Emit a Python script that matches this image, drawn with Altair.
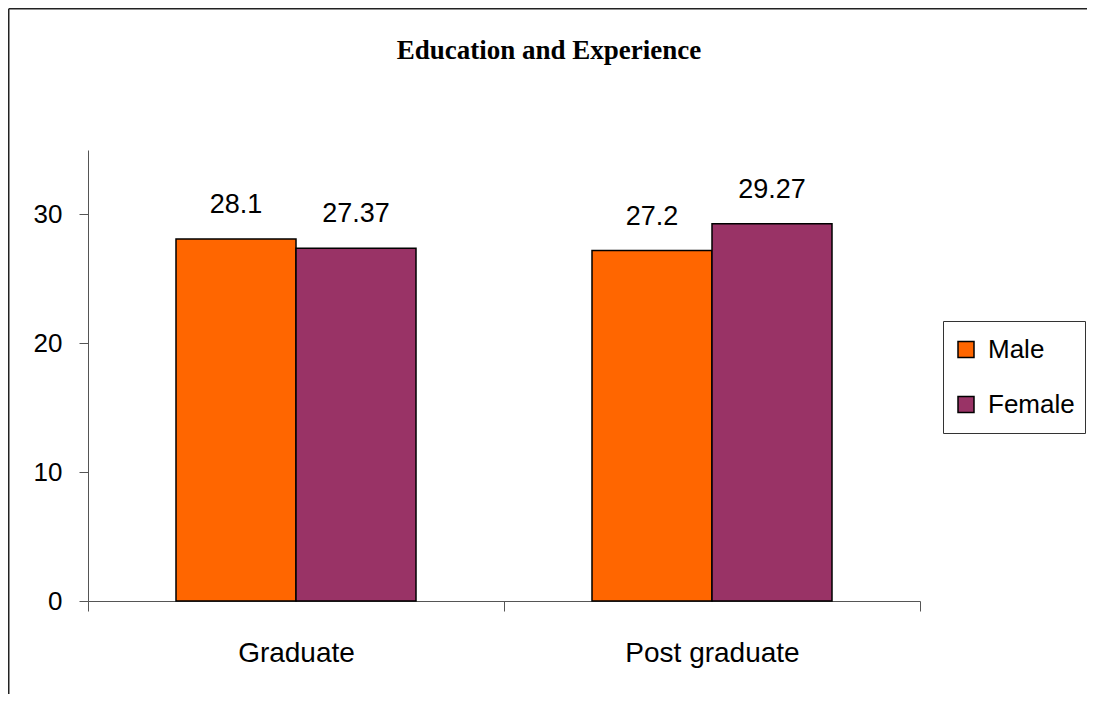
import altair as alt
import pandas as pd

categories = ["Graduate", "Post graduate"]
genders = ["Male", "Female"]
male_values = [28.1, 27.2]
female_values = [27.37, 29.27]
male_labels = ["28.1", "27.2"]
female_labels = ["27.37", "29.27"]
colors = ["#FF6600", "#993366"]
y_ticks = [0, 10, 20, 30]
chart_title = ["Education and Experience"]

rows = []
for i, c in enumerate(categories):
    rows.append({"Education": c, "Gender": "Male", "Value": male_values[i], "Label": male_labels[i]})
    rows.append({"Education": c, "Gender": "Female", "Value": female_values[i], "Label": female_labels[i]})
df = pd.DataFrame(rows)

SANS = "'Liberation Sans', Arial, sans-serif"
SERIF = "'Liberation Serif', 'Times New Roman', serif"

base = alt.Chart(df).encode(
    x=alt.X(
        "Education:N",
        sort=categories,
        title=None,
        scale=alt.Scale(paddingInner=0, paddingOuter=0),
        axis=alt.Axis(
            labelAngle=0,
            tickBand="extent",
            tickSize=10,
            labelPadding=28,
            labelFontSize=28,
            labelFont=SANS,
            labelColor="black",
            labelLimit=400,
            domainColor="#555555",
            tickColor="#555555",
            grid=False,
        ),
    ),
    xOffset=alt.XOffset(
        "Gender:N",
        sort=genders,
        scale=alt.Scale(paddingInner=0, paddingOuter=0.7333),
    ),
    y=alt.Y(
        "Value:Q",
        title=None,
        scale=alt.Scale(domain=[0, 35], nice=False, zero=True),
        axis=alt.Axis(
            values=y_ticks,
            tickSize=9,
            labelPadding=17,
            labelFontSize=26,
            labelFont=SANS,
            labelColor="black",
            domainColor="#555555",
            tickColor="#555555",
            grid=False,
        ),
    ),
)

bars = base.mark_bar(stroke="black", strokeWidth=1.5).encode(
    color=alt.Color(
        "Gender:N",
        sort=genders,
        scale=alt.Scale(domain=genders, range=colors),
        legend=alt.Legend(
            title=None,
            orient="none",
            legendX=855,
            legendY=171,
            padding=10,
            strokeColor="#333333",
            fillColor="white",
            symbolType="square",
            symbolSize=256,
            symbolStrokeColor="black",
            symbolStrokeWidth=1.5,
            symbolOpacity=1,
            labelFontSize=26,
            labelFont=SANS,
            labelColor="black",
            labelOffset=9,
            clipHeight=37,
            rowPadding=18,
        ),
    )
)

texts = base.mark_text(
    dy=-26, baseline="alphabetic", fontSize=27, font=SANS, color="black"
).encode(text="Label:N")

title_df = pd.DataFrame({"t": chart_title})
title = alt.Chart(title_df).mark_text(
    font=SERIF, fontSize=27, fontWeight="bold", color="black",
    align="center", baseline="alphabetic",
).encode(text="t:N", x=alt.value(461), y=alt.value(-91))

frame_df = pd.DataFrame({"k": [0]})
frame_left = alt.Chart(frame_df).mark_rule(color="#222222", strokeWidth=1.5).encode(
    x=alt.value(-79.25), y=alt.value(-141.25), y2=alt.value(560)
)
frame_top = alt.Chart(frame_df).mark_rule(color="#222222", strokeWidth=1.5).encode(
    x=alt.value(-79.25), x2=alt.value(1010), y=alt.value(-141.25)
)

chart = alt.layer(frame_left, frame_top, title, bars, texts).properties(
    width=832,
    height=451,
    autosize=alt.AutoSizeParams(type="none"),
    padding={"left": 80, "top": 142, "right": 167, "bottom": 93},
).configure_view(strokeWidth=0)

chart.save("out.html", embed_options={"renderer": "svg", "actions": False})
